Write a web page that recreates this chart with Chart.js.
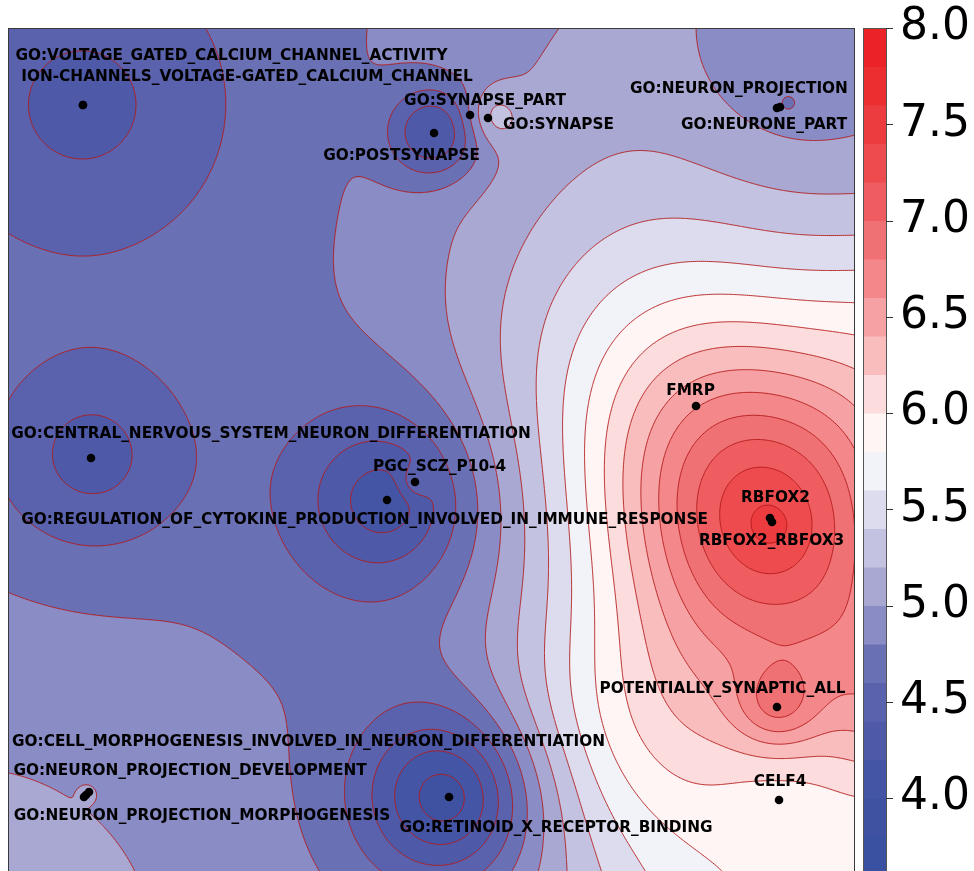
<!DOCTYPE html>
<html lang="en">
<head>
<meta charset="UTF-8">
<title>Gene set map</title>
<script src="https://cdn.jsdelivr.net/npm/chart.js@4.4.1/dist/chart.umd.min.js"></script>
<style>
  html, body { margin: 0; padding: 0; background: #fff; overflow: hidden; }
  canvas { display: block; }
</style>
</head>
<body>
<canvas id="map" width="974" height="905"></canvas>
<script>
// gene sets shown as dots
const pointNames = [
  "GO:VOLTAGE_GATED_CALCIUM_CHANNEL_ACTIVITY",
  "ION-CHANNELS_VOLTAGE-GATED_CALCIUM_CHANNEL",
  "GO:SYNAPSE_PART",
  "GO:SYNAPSE",
  "GO:POSTSYNAPSE",
  "GO:NEURON_PROJECTION",
  "GO:NEURONE_PART",
  "FMRP",
  "GO:CENTRAL_NERVOUS_SYSTEM_NEURON_DIFFERENTIATION",
  "PGC_SCZ_P10-4",
  "GO:REGULATION_OF_CYTOKINE_PRODUCTION_INVOLVED_IN_IMMUNE_RESPONSE",
  "RBFOX2",
  "RBFOX2_RBFOX3",
  "POTENTIALLY_SYNAPTIC_ALL",
  "CELF4",
  "GO:CELL_MORPHOGENESIS_INVOLVED_IN_NEURON_DIFFERENTIATION",
  "GO:NEURON_PROJECTION_DEVELOPMENT",
  "GO:NEURON_PROJECTION_MORPHOGENESIS",
  "GO:RETINOID_X_RECEPTOR_BINDING"
];
const pointX = [0.885, 0.885, 5.455, 5.667, 5.030, 9.115, 9.079, 8.123, 0.980, 4.805, 4.475, 8.996, 9.020, 9.079, 9.103, 0.921, 0.956, 0.897, 5.207];
const pointY = [9.091, 9.091, 8.973, 8.937, 8.760, 9.067, 9.055, 5.537, 4.923, 4.640, 4.427, 4.215, 4.168, 1.983, 0.885, 0.945, 0.980, 0.921, 0.921];
// where each name is written (text centre)
const labelX = [2.639, 2.822, 5.632, 6.499, 4.646, 8.630, 8.926, 8.058, 3.105, 5.095, 4.209, 9.061, 9.014, 8.436, 9.115, 3.548, 2.149, 2.290, 6.470];
const labelY = [9.664, 9.427, 9.132, 8.849, 8.489, 9.274, 8.855, 5.714, 5.212, 4.817, 4.191, 4.451, 3.943, 2.196, 1.098, 1.570, 1.228, 0.697, 0.555];

// contour levels / colour bar
const levelStart = 3.6;
const levelStep = 0.2;
const bandColors = [
  "#3a50a0", "#3f52a2", "#4555a5", "#4e5aa8", "#5a62ad", "#6a70b4",
  "#8a8cc5", "#a8a8d2", "#c3c3e1", "#dcdcee", "#f2f2f9", "#fff5f4",
  "#fcdcdc", "#f9bdbe", "#f6a1a3", "#f38789", "#f07174", "#ef5d60",
  "#ee4b4e", "#ed3c3f", "#ec2e31", "#eb2226"
];
const cbTicks = [4.0, 4.5, 5.0, 5.5, 6.0, 6.5, 7.0, 7.5, 8.0];

// smooth score surface: base level plus radial components
const fieldBase = 4.75;
const fieldX     = [9.008, 8.123, 9.079, 9.103, 9.705, 8.879, 6.989, 9.233, 9.209, 5.726, 5.030, 0.885, 0.980, 4.475, 4.805, 5.207, -0.449, 0.933, 7.107, 10.885, 11.004, 9.008, 8.642];
const fieldY     = [4.132, 5.537, 1.983, 0.885, -1.003, 9.386, 6.553, 9.445, 9.103, 8.949, 8.760, 9.091, 4.923, 4.427, 4.640, 0.921, -0.885, 0.956, 1.830, 2.184, 6.316, 4.109, 1.358];
const fieldAmp   = [2.32, 0.35, 0.50, -0.18, 1.00, 0.40, 0.35, -0.30, -0.15, 0.35, -0.70, -0.40, -0.43, -0.80, 0.25, -1.05, 0.36, 0.08, 0.40, 0.90, 0.60, 0.10, 0.35];
const fieldWidth = [2.031, 1.665, 0.496, 0.921, 3.247, 3.306, 2.125, 1.417, 0.142, 0.330, 0.531, 1.771, 1.181, 1.004, 0.200, 1.004, 3.542, 0.094, 1.535, 1.299, 1.535, 0.189, 1.771];
const fieldShape = [1.75, 2, 2, 2, 2, 2, 2, 2, 2, 2, 2, 2, 2, 1.5, 2, 1.8, 2, 2, 2, 2, 2, 2, 2];

function fieldAt(X, Y) {
  let v = fieldBase;
  for (let k = 0; k < fieldAmp.length; k++) {
    const dx = X - fieldX[k], dy = Y - fieldY[k];
    const q = (dx * dx + dy * dy) / (fieldWidth[k] * fieldWidth[k]);
    if (q > 60) continue;
    const e = fieldShape[k] === 2 ? q : Math.pow(q, fieldShape[k] / 2);
    v += fieldAmp[k] * Math.exp(-e);
  }
  return v;
}

function hexRgb(h) {
  return [parseInt(h.slice(1, 3), 16), parseInt(h.slice(3, 5), 16), parseInt(h.slice(5, 7), 16)];
}

const contourPlugin = {
  id: "contour",
  beforeDatasetsDraw(chart) {
    const { ctx, chartArea: a, scales } = chart;
    const sx = scales.x, sy = scales.y, cb = scales.cb;
    const w = Math.round(a.right - a.left), h = Math.round(a.bottom - a.top);
    const xs = new Float64Array(w), ys = new Float64Array(h);
    for (let i = 0; i < w; i++) xs[i] = sx.getValueForPixel(a.left + i + 0.5);
    for (let j = 0; j < h; j++) ys[j] = sy.getValueForPixel(a.top + j + 0.5);
    const vals = new Float32Array(w * h);
    for (let j = 0; j < h; j++)
      for (let i = 0; i < w; i++) vals[j * w + i] = fieldAt(xs[i], ys[j]);

    // filled bands
    const rgb = bandColors.map(hexRgb);
    const off = document.createElement("canvas");
    off.width = w; off.height = h;
    const octx = off.getContext("2d");
    const img = octx.createImageData(w, h);
    for (let p = 0; p < w * h; p++) {
      let b = Math.floor((vals[p] - levelStart) / levelStep);
      b = Math.max(0, Math.min(rgb.length - 1, b));
      img.data[4 * p] = rgb[b][0];
      img.data[4 * p + 1] = rgb[b][1];
      img.data[4 * p + 2] = rgb[b][2];
      img.data[4 * p + 3] = 255;
    }
    octx.putImageData(img, 0, 0);
    ctx.save();
    ctx.drawImage(off, a.left, a.top);

    // contour lines (marching squares)
    ctx.beginPath();
    ctx.rect(a.left, a.top, w, h);
    ctx.clip();
    ctx.beginPath();
    const st = 2, ox = a.left + 0.5, oy = a.top + 0.5;
    for (let j = 0; j + st < h; j += st) {
      for (let i = 0; i + st < w; i += st) {
        const v0 = vals[j * w + i], v1 = vals[j * w + i + st];
        const v2 = vals[(j + st) * w + i + st], v3 = vals[(j + st) * w + i];
        const lo = Math.min(v0, v1, v2, v3), hi = Math.max(v0, v1, v2, v3);
        const k0 = Math.floor((lo - levelStart) / levelStep) + 1;
        const k1 = Math.floor((hi - levelStart) / levelStep);
        for (let k = Math.max(1, k0); k <= Math.min(rgb.length - 1, k1); k++) {
          const L = levelStart + k * levelStep;
          const pts = [];
          if ((v0 < L) !== (v1 < L)) pts.push(i + st * (L - v0) / (v1 - v0), j);
          if ((v1 < L) !== (v2 < L)) pts.push(i + st, j + st * (L - v1) / (v2 - v1));
          if ((v3 < L) !== (v2 < L)) pts.push(i + st * (L - v3) / (v2 - v3), j + st);
          if ((v0 < L) !== (v3 < L)) pts.push(i, j + st * (L - v0) / (v3 - v0));
          for (let q = 0; q + 3 < pts.length; q += 4) {
            ctx.moveTo(ox + pts[q], oy + pts[q + 1]);
            ctx.lineTo(ox + pts[q + 2], oy + pts[q + 3]);
          }
        }
      }
    }
    ctx.strokeStyle = "rgba(178,24,24,0.9)";
    ctx.lineWidth = 1;
    ctx.stroke();
    ctx.restore();

    // frame
    ctx.save();
    ctx.strokeStyle = "#3a3a3a";
    ctx.lineWidth = 1;
    ctx.strokeRect(a.left + 0.5, a.top + 0.5, w - 1, h);
    ctx.restore();

    // colour bar
    const barL = cb.left + 8, barW = 23;
    ctx.save();
    for (let k = 0; k < bandColors.length; k++) {
      const yb = cb.getPixelForValue(levelStart + k * levelStep);
      const yt = cb.getPixelForValue(levelStart + (k + 1) * levelStep);
      ctx.fillStyle = bandColors[k];
      ctx.fillRect(barL, yt, barW, yb - yt + 0.5);
    }
    ctx.strokeStyle = "#555";
    ctx.lineWidth = 1;
    const yTop = cb.getPixelForValue(cb.max), yBot = cb.getPixelForValue(cb.min);
    ctx.strokeRect(barL + 0.5, yTop + 0.5, barW, yBot - yTop);
    ctx.strokeStyle = "#333";
    cbTicks.forEach(v => {
      const yy = Math.round(cb.getPixelForValue(v)) + 0.5;
      ctx.beginPath();
      ctx.moveTo(barL + barW, yy);
      ctx.lineTo(barL + barW + 7, yy);
      ctx.stroke();
    });
    ctx.restore();
  },
  afterDatasetsDraw(chart) {
    const { ctx, scales } = chart;
    ctx.save();
    ctx.font = 'bold 15.3px "DejaVu Sans"';
    ctx.fillStyle = "#000";
    ctx.textAlign = "center";
    ctx.textBaseline = "middle";
    pointNames.forEach((name, i) => {
      ctx.fillText(name, scales.x.getPixelForValue(labelX[i]), scales.y.getPixelForValue(labelY[i]));
    });
    ctx.restore();
  }
};

new Chart("map", {
  type: "scatter",
  data: {
    datasets: [{
      data: pointX.map((x, i) => ({ x: x, y: pointY[i] })),
      backgroundColor: "#000",
      borderWidth: 0,
      pointRadius: 4.3,
      yAxisID: "y"
    }]
  },
  options: {
    responsive: false,
    animation: false,
    devicePixelRatio: 1,
    layout: { padding: { left: 8, top: 28, right: 0, bottom: 30 } },
    plugins: { legend: { display: false }, tooltip: { enabled: false } },
    scales: {
      x: { type: "linear", min: 0, max: 10, display: false },
      y: { type: "linear", min: 0, max: 10, display: false },
      cb: {
        type: "linear",
        position: "right",
        min: levelStart,
        max: 8.0,
        grid: { display: false, drawTicks: false },
        border: { display: false },
        afterBuildTicks: s => { s.ticks = cbTicks.map(v => ({ value: v })); },
        afterFit: s => { s.width = 119; s.paddingTop = 0; s.paddingBottom = 0; },
        ticks: {
          padding: 45,
          color: "#000",
          font: { family: "DejaVu Sans", size: 44 },
          callback: v => Number(v).toFixed(1)
        }
      }
    }
  },
  plugins: [contourPlugin]
});
</script>
</body>
</html>
